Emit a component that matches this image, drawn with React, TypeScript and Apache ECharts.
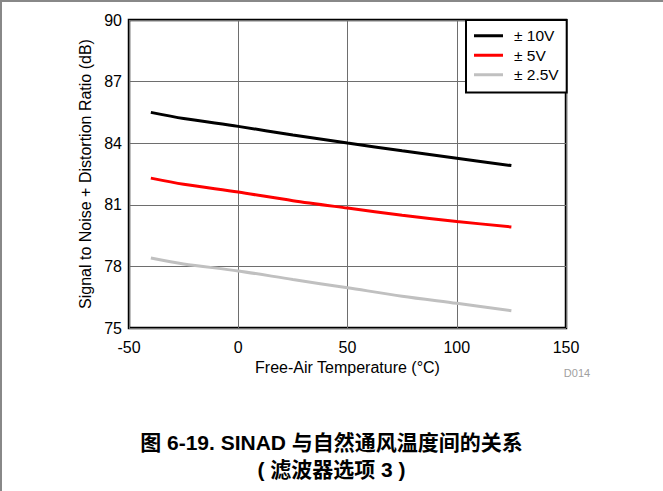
import React, { useEffect, useRef } from "react";
import * as echarts from "echarts";

const temps = [-40, -25, 0, 25, 50, 75, 100, 125];
const sinad10V = [85.5, 85.2, 84.82, 84.4, 84.01, 83.63, 83.27, 82.91];
const sinad5V = [82.3, 82.0, 81.62, 81.2, 80.84, 80.49, 80.19, 79.92];
const sinad2p5V = [78.41, 78.12, 77.78, 77.36, 76.96, 76.55, 76.2, 75.84];
const seriesNames = ["± 10V", "± 5V", "± 2.5V"];
const seriesColors = ["#000000", "#ff0000", "#c0c0c0"];
const xTicks = { min: -50, max: 150, interval: 50 };
const yTicks = { min: 75, max: 90, interval: 3 };
const titleLines = ["图 6-19. SINAD 与自然通风温度间的关系", "( 滤波器选项 3 )"];

const FONT = 'Arial, "Liberation Sans", "Noto Sans CJK SC", sans-serif';

export default function App() {
  const ref = useRef<HTMLDivElement>(null);
  useEffect(() => {
    if (!ref.current) return;
    const chart = echarts.init(ref.current, undefined, { renderer: "svg" });
    const allData = [sinad10V, sinad5V, sinad2p5V];
    chart.setOption({
      animation: false,
      backgroundColor: "#ffffff",
      textStyle: { fontFamily: FONT },
      grid: {
        left: 129,
        right: 97,
        top: 20,
        bottom: 163,
        show: true,
        borderColor: "#000",
        borderWidth: 2.5,
        backgroundColor: "transparent",
      },
      legend: {
        orient: "vertical",
        left: 466,
        top: 20,
        padding: [8, 8, 10, 8],
        itemGap: 4,
        itemWidth: 29,
        itemHeight: 3,
        borderColor: "#000",
        borderWidth: 2,
        borderRadius: 0,
        backgroundColor: "#fff",
        data: seriesNames.map((n) => ({ name: n, icon: "rect" })),
        textStyle: {
          fontFamily: FONT,
          fontSize: 15.5,
          lineHeight: 14,
          color: "#000",
          padding: [0, 0, 0, 6],
        },
      },
      xAxis: {
        type: "value",
        min: xTicks.min,
        max: xTicks.max,
        interval: xTicks.interval,
        name: "Free-Air Temperature (°C)",
        nameLocation: "middle",
        nameGap: 31,
        nameTextStyle: { fontFamily: FONT, fontSize: 16, color: "#000" },
        axisLine: { show: false },
        axisTick: { show: false },
        axisLabel: { fontFamily: FONT, fontSize: 16, color: "#000", margin: 11 },
        splitLine: { show: true, lineStyle: { color: "#6e6e6e", width: 1 } },
      },
      yAxis: {
        type: "value",
        min: yTicks.min,
        max: yTicks.max,
        interval: yTicks.interval,
        name: "Signal to Noise + Distortion Ratio (dB)",
        nameLocation: "middle",
        nameGap: 34,
        nameTextStyle: { fontFamily: FONT, fontSize: 16, color: "#000" },
        axisLine: { show: false },
        axisTick: { show: false },
        axisLabel: { fontFamily: FONT, fontSize: 16, color: "#000", margin: 7 },
        splitLine: { show: true, lineStyle: { color: "#6e6e6e", width: 1 } },
      },
      graphic: [
        {
          type: "line",
          shape: { x1: 0, y1: 1, x2: 663, y2: 1 },
          style: { stroke: "#888", lineWidth: 2 },
        },
        {
          type: "line",
          shape: { x1: 1, y1: 0, x2: 1, y2: 491 },
          style: { stroke: "#888", lineWidth: 2 },
        },
        {
          type: "text",
          x: 577,
          y: 373,
          style: {
            text: "D014",
            fontFamily: FONT,
            fontSize: 11,
            fill: "#a0a0a0",
            align: "center",
            verticalAlign: "middle",
          },
        },
        ...titleLines.map((t, i) => ({
          type: "text",
          x: 331.5,
          y: 442 + i * 27,
          style: {
            text: t,
            fontFamily: FONT,
            fontSize: 21,
            fontWeight: "bold",
            fill: "#000",
            align: "center",
            verticalAlign: "middle",
          },
        })),
      ],
      series: seriesNames.map((name, i) => ({
        name,
        type: "line",
        smooth: 0.3,
        showSymbol: false,
        symbol: "none",
        color: seriesColors[i],
        lineStyle: { color: seriesColors[i], width: 3 },
        data: temps.map((t, j) => [t, allData[i][j]]),
      })),
    });
    return () => chart.dispose();
  }, []);
  return (
    <div
      ref={ref}
      style={{ position: "fixed", left: 0, top: 0, width: 663, height: 491 }}
    />
  );
}
